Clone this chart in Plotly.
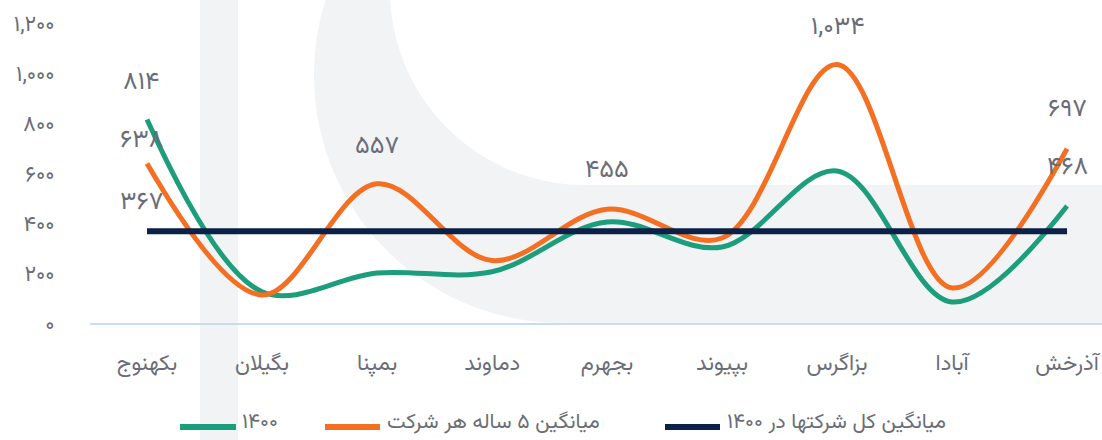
import numpy as np
import plotly.graph_objects as go

# ---------------- data ----------------
categories = ["بکهنوج", "بگیلان", "بمپنا", "دماوند", "بجهرم", "بپیوند", "بزاگرس", "آبادا", "آذرخش"]
values_1400 = [814, 125, 200, 205, 404, 304, 608, 84, 468]
values_avg5 = [638, 112, 557, 250, 455, 340, 1034, 140, 697]
overall_avg_1400 = 367
series_names = ["۱۴۰۰", "میانگین ۵ ساله هر شرکت", "میانگین کل شرکتها در ۱۴۰۰"]
y_tick_values = [0, 200, 400, 600, 800, 1000, 1200]

# ---------------- helpers ----------------
FA = str.maketrans("0123456789", "۰۱۲۳۴۵۶۷۸۹")


def fa(n):
    return f"{n:,}".translate(FA)


FONT = "Vazirmatn, DejaVu Sans, sans-serif"
TXT = "#6a6d78"
GREEN = "#1c9e7c"
ORANGE = "#f46f22"
NAVY = "#0b2147"
BG = "#f2f3f5"
COLORS = [GREEN, ORANGE, NAVY]

avg_series = [overall_avg_1400] * len(categories)

fig = go.Figure()
for name, vals, col, w in [
    (series_names[0], values_1400, GREEN, 5),
    (series_names[1], values_avg5, ORANGE, 5),
    (series_names[2], avg_series, NAVY, 6),
]:
    fig.add_trace(go.Scatter(
        x=categories, y=vals, name=name, mode="lines",
        line=dict(color=col, width=w, shape="spline", smoothing=1.0),
        hoverinfo="skip", showlegend=False,
    ))

# ---------------- data labels ----------------
label_specs = [
    (values_1400, 0, 37), (values_1400, 8, 39),
    (values_avg5, 0, 23), (values_avg5, 2, 37), (values_avg5, 4, 39),
    (values_avg5, 6, 37), (values_avg5, 8, 39),
    (avg_series, 0, 29),
]
annotations = []
for vals, i, ys in label_specs:
    annotations.append(dict(
        x=categories[i], y=vals[i], xref="x", yref="y", text=fa(vals[i]),
        showarrow=False, yshift=ys, xshift=-6 if i == 0 else 0,
        font=dict(family=FONT, size=25, color=TXT),
    ))

# ---------------- background decoration (pixel -> paper) ----------------
PL, PR, PT, PB = 90, 1102, 23, 323


def P(px, py):
    return (px - PL) / (PR - PL), (PB - py) / (PB - PT)


pts = [(324, 0), (392, 0)]
cx, cy, r = 585, -10, 195
a0 = np.arctan2(0 - cy, 392 - cx)
for a in np.linspace(a0, np.pi / 2, 40):
    pts.append((cx + r * np.cos(a), cy + r * np.sin(a)))
pts += [(1102, 185), (1102, 323), (562, 323)]
cx, cy, r = 562, 75, 248
for a in np.linspace(np.pi / 2, np.pi, 40):
    pts.append((cx + r * np.cos(a), cy + r * np.sin(a)))
for a in np.linspace(np.pi, np.pi + np.arcsin(75 / r), 12):
    pts.append((cx + r * np.cos(a), cy + r * np.sin(a)))
path = "M " + " L ".join(f"{P(x, y)[0]:.5f},{P(x, y)[1]:.5f}" for x, y in pts) + " Z"

shapes = [
    dict(type="path", xref="paper", yref="paper", path=path,
         fillcolor=BG, line=dict(width=0), layer="below"),
    dict(type="rect", xref="paper", yref="paper",
         x0=P(200, 0)[0], x1=P(238, 0)[0], y0=P(0, 440)[1], y1=P(0, 0)[1],
         fillcolor=BG, line=dict(width=0), layer="below"),
]

# ---------------- manual legend ----------------
legend_items = [(180, 236, 240), (325, 380, 385), (665, 720, 725)]
ly = 427
for (x0, x1, tx), name, col in zip(legend_items, series_names, COLORS):
    shapes.append(dict(type="line", xref="paper", yref="paper",
                       x0=P(x0, ly)[0], x1=P(x1, ly)[0], y0=P(0, ly)[1], y1=P(0, ly)[1],
                       line=dict(color=col, width=6)))
    annotations.append(dict(x=P(tx, 0)[0], y=P(0, 422)[1], xref="paper", yref="paper",
                            xanchor="left", yanchor="middle", showarrow=False, text=name,
                            font=dict(family=FONT, size=21, color=TXT)))

fig.update_layout(
    width=1102, height=440,
    margin=dict(l=PL, r=1102 - PR, t=PT, b=440 - PB),
    paper_bgcolor="white", plot_bgcolor="rgba(0,0,0,0)",
    font=dict(family=FONT, color=TXT),
    shapes=shapes, annotations=annotations,
    showlegend=False,
    hovermode=False,
)
fig.update_xaxes(
    type="category", range=[-0.4957, 8.304], showgrid=False, zeroline=False,
    showline=True, linecolor="#c9dbf8", linewidth=2, automargin=False,
    ticks="outside", ticklen=19, tickcolor="rgba(0,0,0,0)",
    tickfont=dict(family=FONT, size=22, color=TXT),
)
fig.update_yaxes(
    range=[0, 1200], showgrid=False, zeroline=False, showline=False, automargin=False,
    tickvals=y_tick_values, ticktext=[fa(v) for v in y_tick_values],
    ticks="outside", ticklen=30, tickcolor="rgba(0,0,0,0)",
    tickfont=dict(family=FONT, size=22, color=TXT),
)

fig.write_html(
    "out.html",
    config={"displayModeBar": False},
    post_script="document.body.style.margin='0';document.body.style.overflow='hidden';",
)
